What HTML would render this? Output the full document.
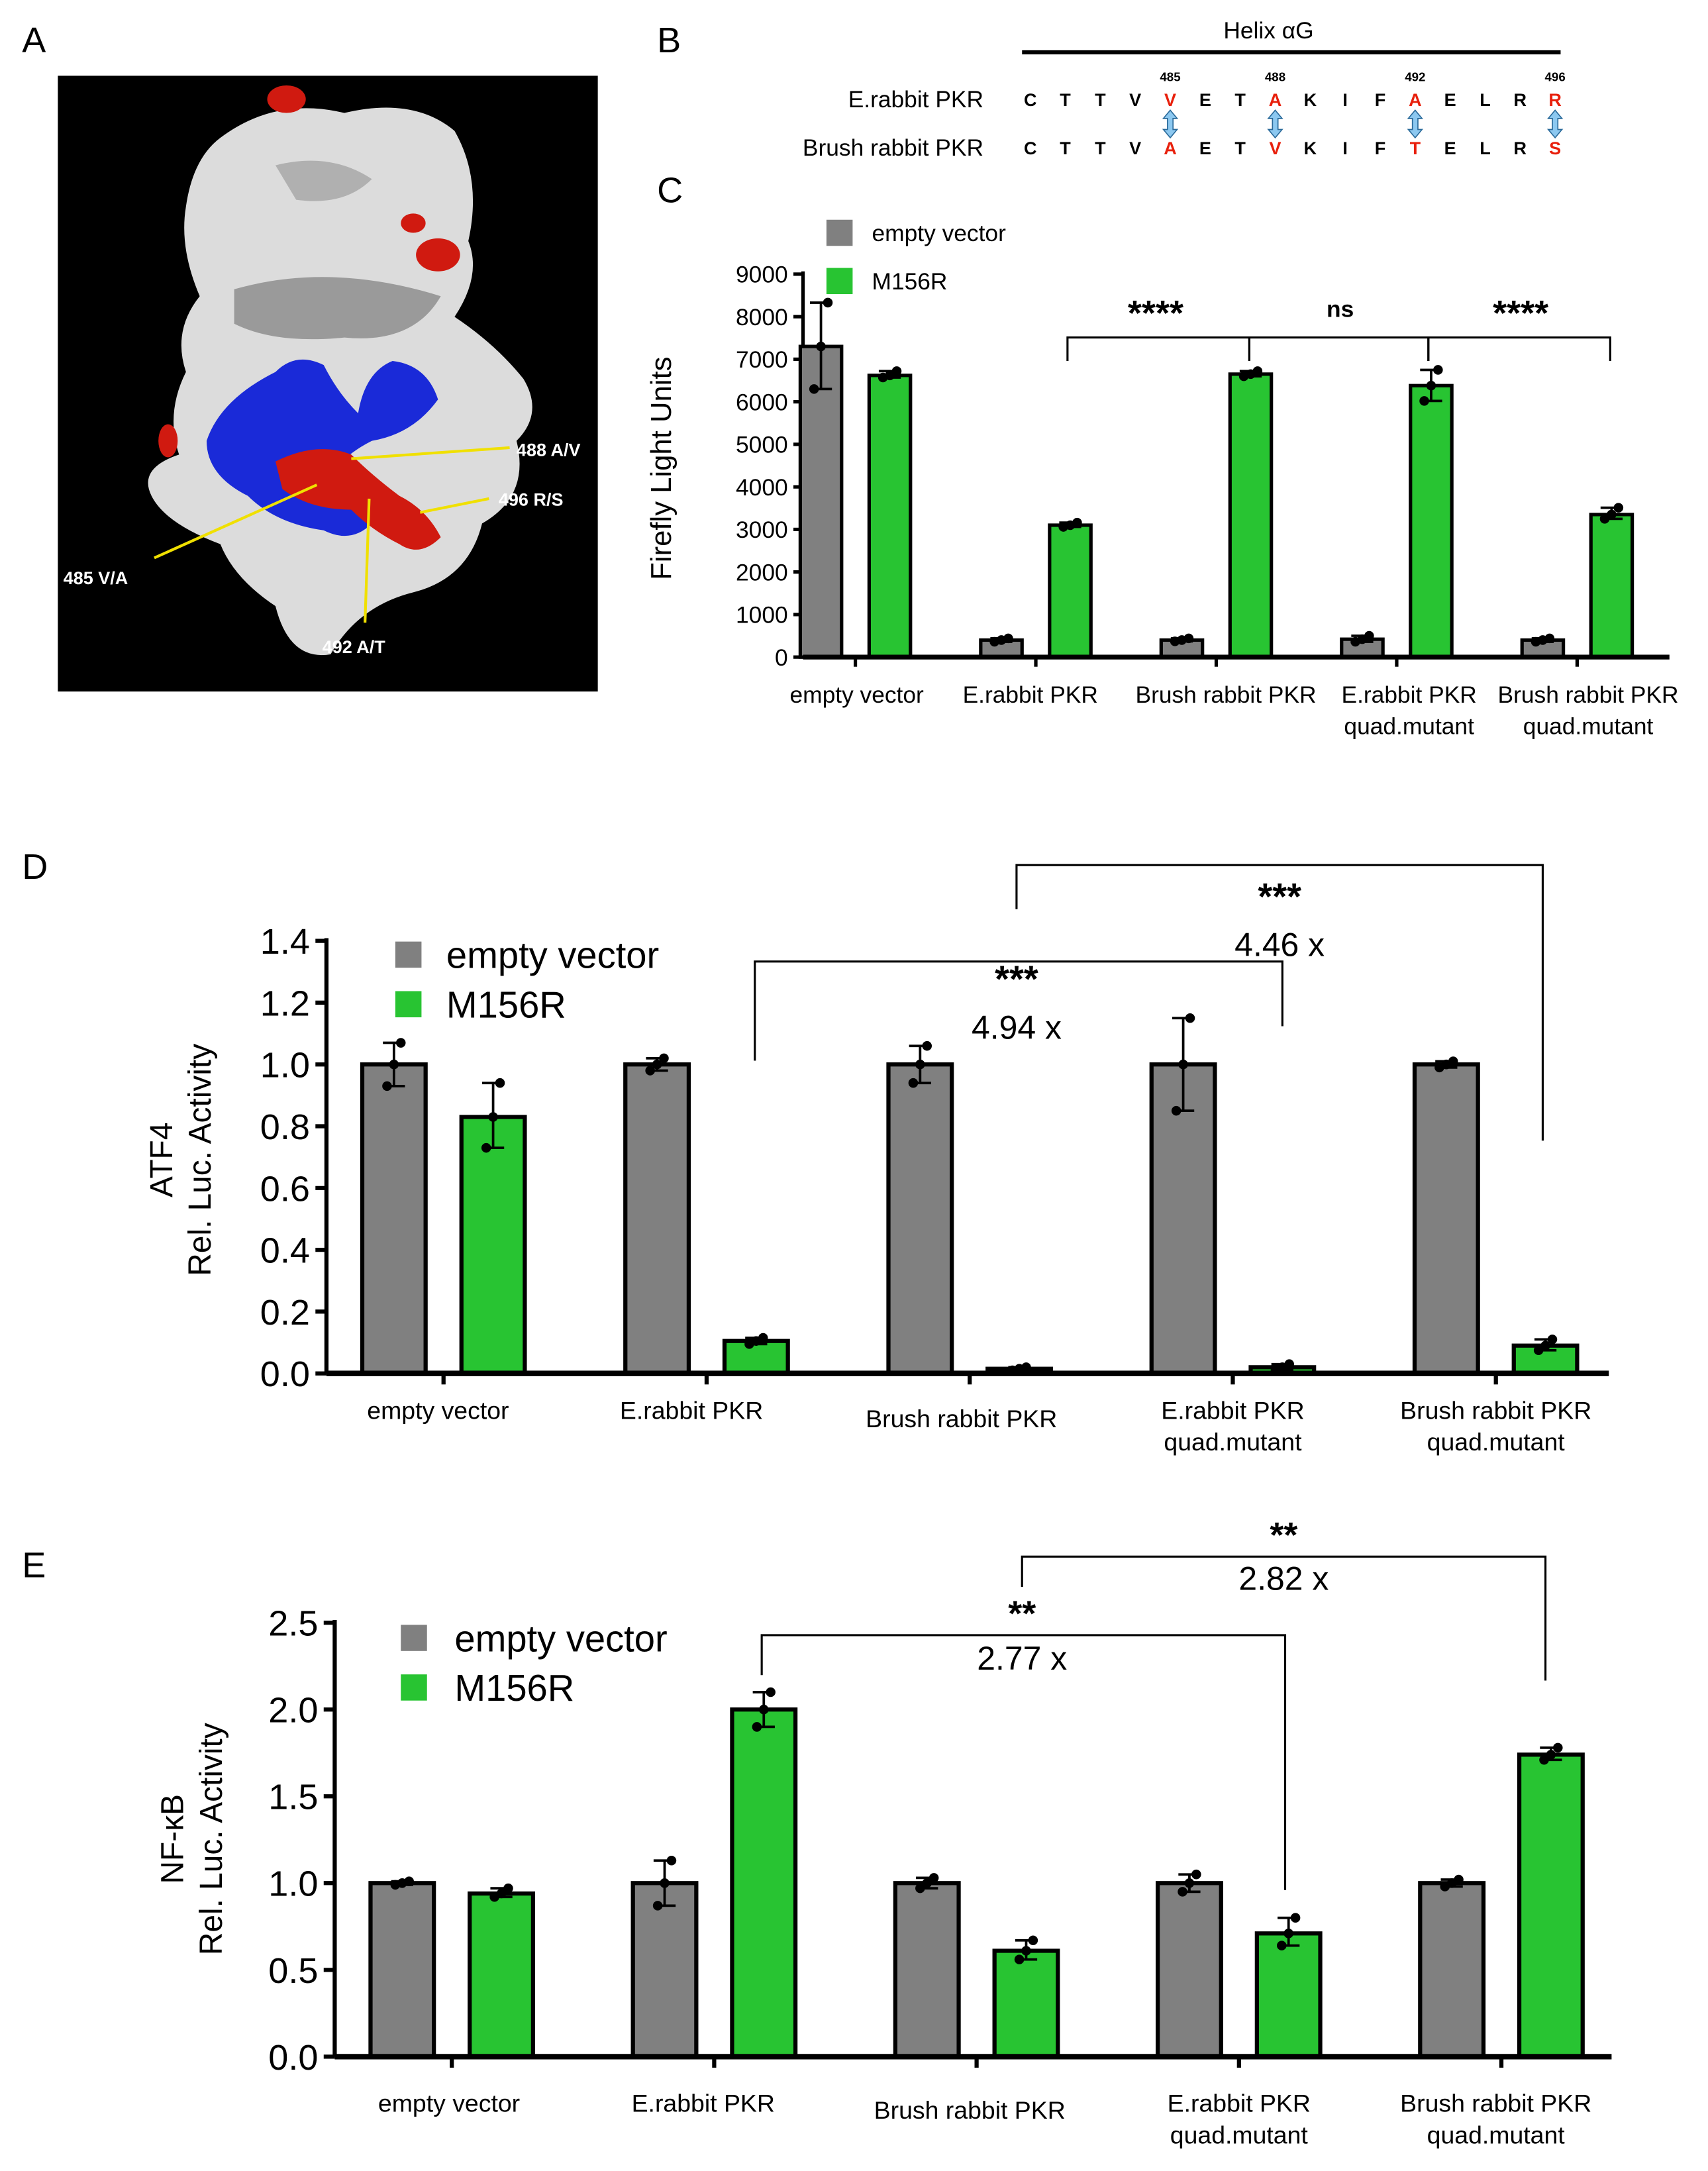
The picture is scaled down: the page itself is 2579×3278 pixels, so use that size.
<!DOCTYPE html>
<html><head><meta charset="utf-8"><style>
html,body{margin:0;padding:0;background:#fff}
svg{display:block}
text{font-family:"Liberation Sans",sans-serif}
</style></head><body>
<svg id="fig" width="2579" height="3278" viewBox="0 0 1240 1576" preserveAspectRatio="none" xmlns="http://www.w3.org/2000/svg">
<g>
<text x="16" y="38" font-size="26">A</text>
<rect x="42" y="55" width="392" height="447" fill="#000"/>
<g>
<path d="M160 100 Q200 70 250 82 Q300 70 330 95 Q350 130 340 175 Q350 200 330 230 Q360 250 380 275 Q395 300 375 320 Q385 360 350 380 Q340 420 300 430 Q260 440 240 475 Q210 480 200 440 Q170 420 160 395 Q120 380 110 360 Q100 340 130 330 Q120 300 135 270 Q125 240 145 215 Q130 180 135 150 Q140 115 160 100 Z" fill="#dcdcdc"/>
<path d="M170 210 Q240 190 320 215 Q300 250 250 245 Q200 250 170 235 Z" fill="#9a9a9a"/>
<path d="M200 120 Q240 110 270 130 Q250 150 215 145 Z" fill="#b0b0b0"/>
<path d="M200 270 Q215 255 235 265 Q245 285 260 300 Q265 270 285 262 Q310 265 318 290 Q300 315 270 320 Q250 330 240 345 Q250 370 270 380 Q255 395 235 385 Q200 380 180 360 Q150 345 150 320 Q160 290 200 270 Z" fill="#1a2ad8"/>
<path d="M200 335 Q230 320 255 330 Q270 345 290 360 Q310 370 320 390 Q305 405 290 395 Q270 385 255 370 Q225 370 205 355 Z" fill="#d01a10"/>
<ellipse cx="208" cy="72" rx="14" ry="10" fill="#d01a10"/>
<ellipse cx="318" cy="185" rx="16" ry="12" fill="#d01a10"/>
<ellipse cx="300" cy="162" rx="9" ry="7" fill="#d01a10"/>
<ellipse cx="122" cy="320" rx="7" ry="12" fill="#d01a10"/>
</g>
<g stroke="#f0e000" stroke-width="2">
<line x1="255" y1="333" x2="370" y2="325"/>
<line x1="305" y1="372" x2="355" y2="362"/>
<line x1="268" y1="362" x2="265" y2="452"/>
<line x1="230" y1="352" x2="112" y2="405"/>
</g>
<g fill="#fff" font-size="13" font-weight="bold">
<text x="375" y="331">488 A/V</text>
<text x="362" y="367">496 R/S</text>
<text x="234" y="474">492 A/T</text>
<text x="46" y="424">485 V/A</text>
</g>
</g>
<g>
<text x="477" y="38" font-size="26">B</text>
<text x="921" y="28" font-size="17" text-anchor="middle">Helix αG</text>
<line x1="742" y1="38" x2="1133" y2="38" stroke="#000" stroke-width="3"/>
<text x="714" y="78" font-size="17" text-anchor="end">E.rabbit PKR</text>
<text x="714" y="113" font-size="17" text-anchor="end">Brush rabbit PKR</text>
<g id="seq"></g>
</g>
<text x="477" y="147" font-size="26">C</text>
<g id="chartC"></g>
<text x="16" y="638" font-size="26">D</text>
<g id="chartD"></g>
<text x="16" y="1145" font-size="26">E</text>
<g id="chartE"></g>
</svg>
<script>
var NS="http://www.w3.org/2000/svg";
var seqTop=["C","T","T","V","V","E","T","A","K","I","F","A","E","L","R","R"];
var seqBot=["C","T","T","V","A","E","T","V","K","I","F","T","E","L","R","S"];
var seqMut=[4,7,11,15];
var seqNums=["485","488","492","496"];

var categories=["empty vector","E.rabbit PKR","Brush rabbit PKR","E.rabbit PKR\nquad.mutant","Brush rabbit PKR\nquad.mutant"];
var cGray=[7300,400,400,420,400];
var cGrayLo=[6300,360,370,360,360];
var cGrayHi=[8330,440,440,500,440];
var cGreen=[6620,3100,6650,6380,3350];
var cGreenLo=[6570,3060,6600,6020,3250];
var cGreenHi=[6720,3160,6720,6750,3510];
var cTicks=[0,1000,2000,3000,4000,5000,6000,7000,8000,9000];

var dGray=[1.0,1.0,1.0,1.0,1.0];
var dGrayLo=[0.93,0.98,0.94,0.85,0.99];
var dGrayHi=[1.07,1.02,1.06,1.15,1.01];
var dGreen=[0.83,0.105,0.015,0.02,0.09];
var dGreenLo=[0.73,0.095,0.01,0.01,0.075];
var dGreenHi=[0.94,0.115,0.02,0.03,0.11];
var dTicks=[0,0.2,0.4,0.6,0.8,1.0,1.2,1.4];

var eGray=[1.0,1.0,1.0,1.0,1.0];
var eGrayLo=[0.99,0.87,0.97,0.95,0.98];
var eGrayHi=[1.01,1.13,1.03,1.05,1.02];
var eGreen=[0.94,2.0,0.61,0.71,1.74];
var eGreenLo=[0.92,1.9,0.56,0.64,1.71];
var eGreenHi=[0.97,2.1,0.67,0.80,1.78];
var eTicks=[0,0.5,1.0,1.5,2.0,2.5];

function mk(tag,attrs,parent){var e=document.createElementNS(NS,tag);for(var k in attrs)e.setAttribute(k,attrs[k]);parent.appendChild(e);return e;}

var sg=document.getElementById('seq');
seqTop.forEach(function(c,i){
  var x=748+i*25.4, m=seqMut.indexOf(i)>=0;
  var t=mk('text',{x:x,y:77,'font-size':13,'font-weight':'bold','text-anchor':'middle',fill:m?'#e8200c':'#000'},sg);t.textContent=c;
  
  
  var b=mk('text',{x:x,y:112,'font-size':13,'font-weight':'bold','text-anchor':'middle',fill:m?'#e8200c':'#000'},sg);b.textContent=seqBot[i];
  
  
  if(m){
    var n=mk('text',{x:x,y:59,'font-size':9,'font-weight':'bold','text-anchor':'middle'},sg);n.textContent=seqNums[seqMut.indexOf(i)];
    
    
    var a=mk('path',{d:'M'+x+' 80 l-5 6 h3 v8 h-3 l5 6 l5 -6 h-3 v-8 h3 z',fill:'#8cc8f0',stroke:'#2a6a9a','stroke-width':0.8},sg);
    
    
  }
});

function chart(id,o){
  var g=document.getElementById(id);
  function Y(v){return o.y0-(v-o.vmin)/(o.vmax-o.vmin)*(o.y0-o.y1);}
  function GX(i){return o.gx0+i*o.gstep;}
  var ax=mk('line',{x1:o.ax,y1:Y(o.vmax)-2,x2:o.ax,y2:o.y0,stroke:'#000','stroke-width':o.lw},g);
  
  
  o.ticks.forEach(function(v){
    var l=mk('line',{x1:o.ax-o.tl,y1:Y(v),x2:o.ax,y2:Y(v),stroke:'#000','stroke-width':o.lw},g);
    
    
    var t=mk('text',{x:o.ax-o.tl-4,y:Y(v)+o.tfs*0.36,'font-size':o.tfs,'text-anchor':'end'},g);
    t.textContent=o.fmt(v);
    
    
  });
  function bar(i,val,lo,hi,dx,col,name){
    var cx=GX(i)+dx, x=cx-o.bw/2;
    var r=mk('rect',{x:x,y:Y(val),width:o.bw,height:o.y0-Y(val),fill:col,stroke:'#000','stroke-width':o.lw},g);
    
    
    var e=mk('path',{d:'M'+cx+' '+Y(lo)+'V'+Y(hi)+'M'+(cx-8)+' '+Y(lo)+'h16M'+(cx-8)+' '+Y(hi)+'h16',stroke:'#000','stroke-width':1.8,fill:'none'},g);
    
    
    [lo,val,hi].forEach(function(p,k){
      var d=mk('circle',{cx:cx+(k-1)*5,cy:Y(p),r:3.5,fill:'#000'},g);
      
      
    });
  }
  for(var i=0;i<categories.length;i++){
    bar(i,o.gray[i],o.grayLo[i],o.grayHi[i],-o.off,'#808080','bar-empty-vector');
    bar(i,o.green[i],o.greenLo[i],o.greenHi[i],o.off,'#28c432','bar-m156r');
  }
  var xa=mk('line',{x1:o.ax,y1:o.y0,x2:o.xend,y2:o.y0,stroke:'#000','stroke-width':o.lw+1},g);
  
  
  categories.forEach(function(c,i){
    var tk=mk('line',{x1:GX(i),y1:o.y0,x2:GX(i),y2:o.y0+o.tl,stroke:'#000','stroke-width':o.lw},g);
    
    
    var lines=c.split('\n');
    lines.forEach(function(s,k){
      var yy=o.xly+k*23+(lines.length==1?o.single[i]:0);
      var t=mk('text',{x:GX(i)+o.xlOff[i],y:yy,'font-size':o.xfs,'text-anchor':'middle'},g);
      t.textContent=s;
      
      
    });
  });
  [['#808080','empty vector'],['#28c432','M156R']].forEach(function(L,k){
    var y=o.legY+k*o.legDy;
    var s=mk('rect',{x:o.legX,y:y-o.legS/2,width:o.legS,height:o.legS,fill:L[0]},g);
    
    
    var t=mk('text',{x:o.legX+o.legS+o.legGap,y:y+o.legFs*0.36,'font-size':o.legFs},g);
    t.textContent=L[1];
    
    
  });
  o.ylab.forEach(function(s,k){
    var t=mk('text',{x:0,y:0,'font-size':o.ylfs,'text-anchor':'middle',transform:'translate('+(o.ylx+k*28)+','+o.yly+') rotate(-90)'},g);
    t.textContent=s;
    
    
  });
  o.brackets.forEach(function(b){
    var p=mk('path',{d:'M'+b[0]+' '+b[3]+'V'+b[2]+'H'+b[1]+'V'+b[4],stroke:'#000','stroke-width':1.5,fill:'none'},g);
    
    
    var t=mk('text',{x:b[5],y:b[6],'font-size':b[8]||20,'font-weight':'bold','text-anchor':'middle'},g);
    t.textContent=b[7];
    
    
    if(b[9]){var f=mk('text',{x:b[5],y:b[10],'font-size':24,'text-anchor':'middle'},g);f.textContent=b[9];
      
      }
  });
}

chart('chartC',{vmin:0,vmax:9000,y0:477,y1:199,ax:583,xend:1212,gx0:621,gstep:131,off:25,bw:30,lw:2.5,tl:7,tfs:17,
  fmt:function(v){return String(v);},ticks:cTicks,gray:cGray,grayLo:cGrayLo,grayHi:cGrayHi,green:cGreen,greenLo:cGreenLo,greenHi:cGreenHi,
  xly:510,xfs:17,xlOff:[1,-4,7,9,8],single:[0,0,0,0,0],legX:600,legY:169,legDy:35,legS:19,legGap:14,legFs:17,
  ylab:['Firefly Light Units'],ylx:487,yly:340,ylfs:21,
  brackets:[[775,907,245,262,262,839,236,'****',26],[907,1037,245,262,262,973,230,'ns',17],[1037,1169,245,262,262,1104,236,'****',26]]});

chart('chartD',{vmin:0,vmax:1.4,y0:997,y1:683,ax:237,xend:1168,gx0:322,gstep:191,off:36,bw:46,lw:3,tl:8,tfs:26,
  fmt:function(v){return v.toFixed(1);},ticks:dTicks,gray:dGray,grayLo:dGrayLo,grayHi:dGrayHi,green:dGreen,greenLo:dGreenLo,greenHi:dGreenHi,
  xly:1030,xfs:18,xlOff:[-4,-11,-6,0,0],single:[0,0,6,0,0],legX:287,legY:693,legDy:36,legS:19,legGap:18,legFs:27,
  ylab:['ATF4','Rel. Luc. Activity'],ylx:125,yly:842,ylfs:23,
  brackets:[[548,931,698,770,745,738,720,'***',27,'4.94 x',754],[738,1120,628,660,828,929,660,'***',27,'4.46 x',694]]});

chart('chartE',{vmin:0,vmax:2.5,y0:1493,y1:1178,ax:243,xend:1170,gx0:328,gstep:190.5,off:36,bw:46,lw:3,tl:8,tfs:26,
  fmt:function(v){return v.toFixed(1);},ticks:eTicks,gray:eGray,grayLo:eGrayLo,grayHi:eGrayHi,green:eGreen,greenLo:eGreenLo,greenHi:eGreenHi,
  xly:1533,xfs:18,xlOff:[-2,-8,-5,0,-4],single:[0,0,5,0,0],legX:291,legY:1189,legDy:36,legS:19,legGap:20,legFs:27,
  ylab:['NF-κB','Rel. Luc. Activity'],ylx:133,yly:1335,ylfs:23,
  brackets:[[553,933,1187,1216,1372,742,1180,'**',26,'2.77 x',1212],[742,1122,1130,1152,1220,932,1123,'**',26,'2.82 x',1154]]});
</script>
</body></html>
